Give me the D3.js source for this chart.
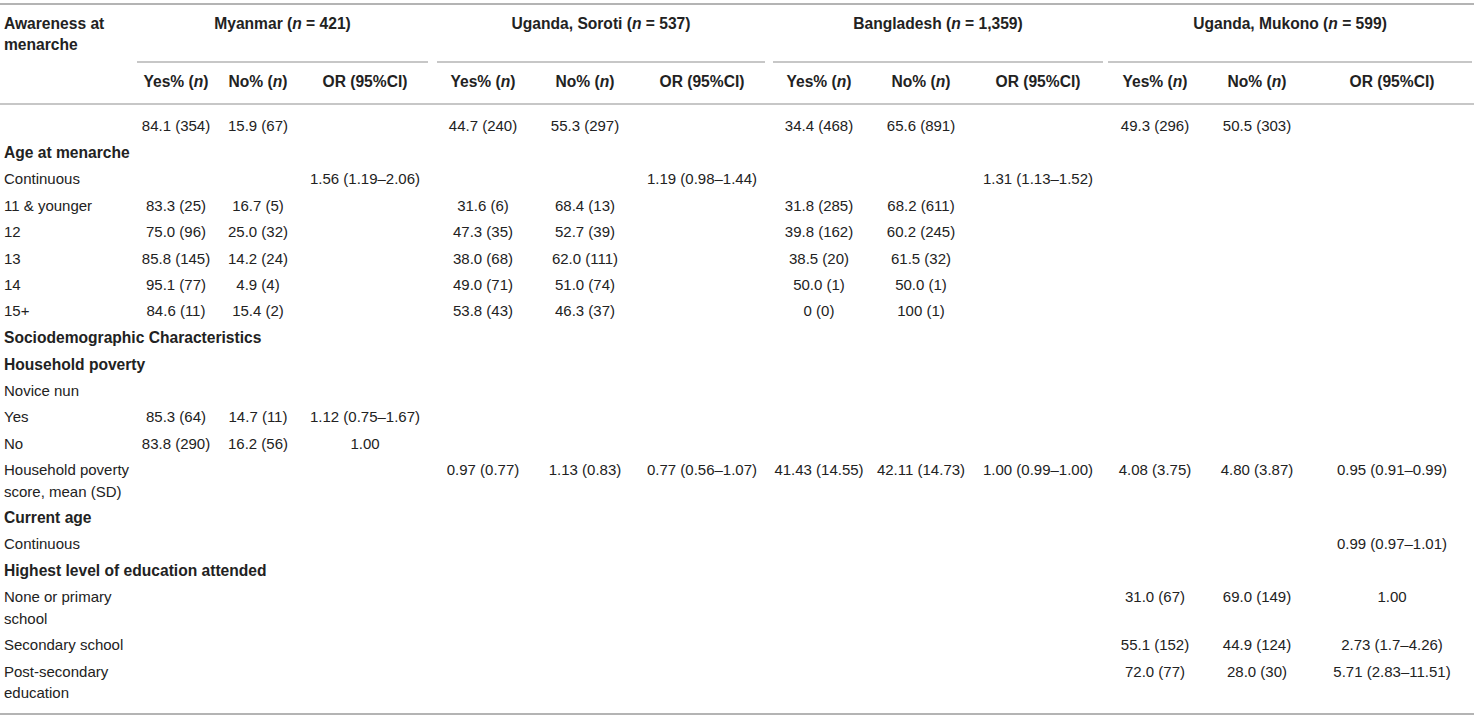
<!DOCTYPE html>
<html>
<head>
<meta charset="utf-8">
<script src="https://cdn.jsdelivr.net/npm/d3@7"></script>
<style>
  body { margin: 0; background: #fff; }
  text { font-family: "Liberation Sans", Arial, Helvetica, sans-serif; fill: #222; }
  .bold { font-weight: bold; }
</style>
</head>
<body>
<div id="chart"></div>
<script>
// Study sites and column headings
const sites = ["Myanmar", "Uganda, Soroti", "Bangladesh", "Uganda, Mukono"];
const siteN = ["421", "537", "1,359", "599"];
const subCols = ["Yes", "No", "OR"];

// Row labels (array entries = lines of text), bold marks section headings
const rowLabels = [
  [""], ["Age at menarche"], ["Continuous"], ["11 & younger"], ["12"], ["13"], ["14"], ["15+"],
  ["Sociodemographic Characteristics"], ["Household poverty"], ["Novice nun"], ["Yes"], ["No"],
  ["Household poverty", "score, mean (SD)"], ["Current age"], ["Continuous"],
  ["Highest level of education attended"], ["None or primary", "school"], ["Secondary school"],
  ["Post-secondary", "education"]
];
const rowBold = [0, 1, 0, 0, 0, 0, 0, 0, 1, 1, 0, 0, 0, 0, 1, 0, 1, 0, 0, 0];

// Cell values per site, one entry per row
const myanmarYes = ["84.1 (354)", "", "", "83.3 (25)", "75.0 (96)", "85.8 (145)", "95.1 (77)", "84.6 (11)", "", "", "", "85.3 (64)", "83.8 (290)", "", "", "", "", "", "", ""];
const myanmarNo = ["15.9 (67)", "", "", "16.7 (5)", "25.0 (32)", "14.2 (24)", "4.9 (4)", "15.4 (2)", "", "", "", "14.7 (11)", "16.2 (56)", "", "", "", "", "", "", ""];
const myanmarOR = ["", "", "1.56 (1.19–2.06)", "", "", "", "", "", "", "", "", "1.12 (0.75–1.67)", "1.00", "", "", "", "", "", "", ""];

const sorotiYes = ["44.7 (240)", "", "", "31.6 (6)", "47.3 (35)", "38.0 (68)", "49.0 (71)", "53.8 (43)", "", "", "", "", "", "0.97 (0.77)", "", "", "", "", "", ""];
const sorotiNo = ["55.3 (297)", "", "", "68.4 (13)", "52.7 (39)", "62.0 (111)", "51.0 (74)", "46.3 (37)", "", "", "", "", "", "1.13 (0.83)", "", "", "", "", "", ""];
const sorotiOR = ["", "", "1.19 (0.98–1.44)", "", "", "", "", "", "", "", "", "", "", "0.77 (0.56–1.07)", "", "", "", "", "", ""];

const bangladeshYes = ["34.4 (468)", "", "", "31.8 (285)", "39.8 (162)", "38.5 (20)", "50.0 (1)", "0 (0)", "", "", "", "", "", "41.43 (14.55)", "", "", "", "", "", ""];
const bangladeshNo = ["65.6 (891)", "", "", "68.2 (611)", "60.2 (245)", "61.5 (32)", "50.0 (1)", "100 (1)", "", "", "", "", "", "42.11 (14.73)", "", "", "", "", "", ""];
const bangladeshOR = ["", "", "1.31 (1.13–1.52)", "", "", "", "", "", "", "", "", "", "", "1.00 (0.99–1.00)", "", "", "", "", "", ""];

const mukonoYes = ["49.3 (296)", "", "", "", "", "", "", "", "", "", "", "", "", "4.08 (3.75)", "", "", "", "31.0 (67)", "55.1 (152)", "72.0 (77)"];
const mukonoNo = ["50.5 (303)", "", "", "", "", "", "", "", "", "", "", "", "", "4.80 (3.87)", "", "", "", "69.0 (149)", "44.9 (124)", "28.0 (30)"];
const mukonoOR = ["", "", "", "", "", "", "", "", "", "", "", "", "", "0.95 (0.91–0.99)", "", "0.99 (0.97–1.01)", "", "1.00", "2.73 (1.7–4.26)", "5.71 (2.83–11.51)"];

const siteValues = [
  [myanmarYes, myanmarNo, myanmarOR],
  [sorotiYes, sorotiNo, sorotiOR],
  [bangladeshYes, bangladeshNo, bangladeshOR],
  [mukonoYes, mukonoNo, mukonoOR]
];

// Layout
const width = 1474;
const height = 718;
const lineStep = 21.4;   // between lines inside one cell
const rowStep = 26.45;   // between single-line rows
const firstRow = 126;
const bodySize = 15;
const boldSize = 15.6;
const lineColor = "#b4b4b4";

const svg = d3.select("#chart")
    .append("svg")
    .attr("width", width)
    .attr("height", height);

// column centers for each site/sub-column
const colKeys = [];
sites.forEach((s, i) => subCols.forEach(c => colKeys.push(i + "-" + c)));
const x = d3.scaleOrdinal()
    .domain(colKeys)
    .range([176, 258, 365, 483, 585, 702, 819, 921, 1038, 1155, 1257, 1392]);

// site spans (for the group header and its underline)
const siteSpan = d3.scaleOrdinal()
    .domain(sites)
    .range([[137, 428], [437, 765], [773, 1103], [1108, 1472]]);

// row positions: each row starts after the previous row's lines
const rowTops = [];
let yAcc = firstRow;
rowLabels.forEach(lines => {
  rowTops.push(yAcc);
  yAcc += rowStep + (lines.length - 1) * lineStep;
});
const y = d3.scaleOrdinal()
    .domain(d3.range(rowLabels.length))
    .range(rowTops);

// Rules
const rules = [
  { x1: 0, x2: width, y: 4, w: 2 },
  { x1: 0, x2: width, y: 104, w: 1.5 },
  { x1: 0, x2: width, y: 714, w: 2 }
];
sites.forEach(s => rules.push({ x1: siteSpan(s)[0], x2: siteSpan(s)[1], y: 62, w: 1.5 }));

svg.selectAll("line.rule")
    .data(rules)
    .enter()
    .append("line")
    .attr("class", "rule")
    .attr("x1", d => d.x1)
    .attr("x2", d => d.x2)
    .attr("y1", d => d.y)
    .attr("y2", d => d.y)
    .attr("stroke", lineColor)
    .attr("stroke-width", d => d.w);

// Header: first column
svg.append("text")
    .attr("class", "bold")
    .attr("x", 4)
    .attr("y", 24)
    .attr("dy", "0.35em")
    .attr("font-size", boldSize)
    .text("Awareness at");
svg.append("text")
    .attr("class", "bold")
    .attr("x", 4)
    .attr("y", 45)
    .attr("dy", "0.35em")
    .attr("font-size", boldSize)
    .text("menarche");

// Header: site groups
const groupText = svg.selectAll("text.group")
    .data(sites)
    .enter()
    .append("text")
    .attr("class", "group bold")
    .attr("x", d => (siteSpan(d)[0] + siteSpan(d)[1]) / 2)
    .attr("y", 24)
    .attr("dy", "0.35em")
    .attr("text-anchor", "middle")
    .attr("font-size", boldSize);
groupText.append("tspan").text(d => d + " (");
groupText.append("tspan").attr("font-style", "italic").text("n");
groupText.append("tspan").text((d, i) => " = " + siteN[i] + ")");

// Header: sub-columns
const subHeaders = [];
sites.forEach((s, i) => subCols.forEach(c => subHeaders.push({ key: i + "-" + c, c })));
const subText = svg.selectAll("text.sub")
    .data(subHeaders)
    .enter()
    .append("text")
    .attr("class", "sub bold")
    .attr("x", d => x(d.key))
    .attr("y", 82)
    .attr("dy", "0.35em")
    .attr("text-anchor", "middle")
    .attr("font-size", boldSize);
subText.filter(d => d.c !== "OR").each(function(d) {
  const t = d3.select(this);
  t.append("tspan").text(d.c + "% (");
  t.append("tspan").attr("font-style", "italic").text("n");
  t.append("tspan").text(")");
});
subText.filter(d => d.c === "OR").text("OR (95%CI)");

// Row labels
const labelText = svg.selectAll("text.label")
    .data(rowLabels)
    .enter()
    .append("text")
    .attr("class", (d, i) => rowBold[i] ? "label bold" : "label")
    .attr("font-size", (d, i) => rowBold[i] ? boldSize : bodySize)
    .attr("x", 4)
    .attr("y", (d, i) => y(i));
labelText.selectAll("tspan")
    .data(d => d)
    .enter()
    .append("tspan")
    .attr("x", 4)
    .attr("dy", (d, j) => j === 0 ? "0.35em" : lineStep)
    .text(d => d);

// Cells
const cells = [];
siteValues.forEach((cols, si) => cols.forEach((vals, ci) => vals.forEach((v, ri) => {
  if (v !== "") cells.push({ key: si + "-" + subCols[ci], row: ri, v });
})));

svg.selectAll("text.cell")
    .data(cells)
    .enter()
    .append("text")
    .attr("class", "cell")
    .attr("x", d => x(d.key))
    .attr("y", d => y(d.row))
    .attr("dy", "0.35em")
    .attr("text-anchor", "middle")
    .attr("font-size", bodySize)
    .text(d => d.v);
</script>
</body>
</html>
